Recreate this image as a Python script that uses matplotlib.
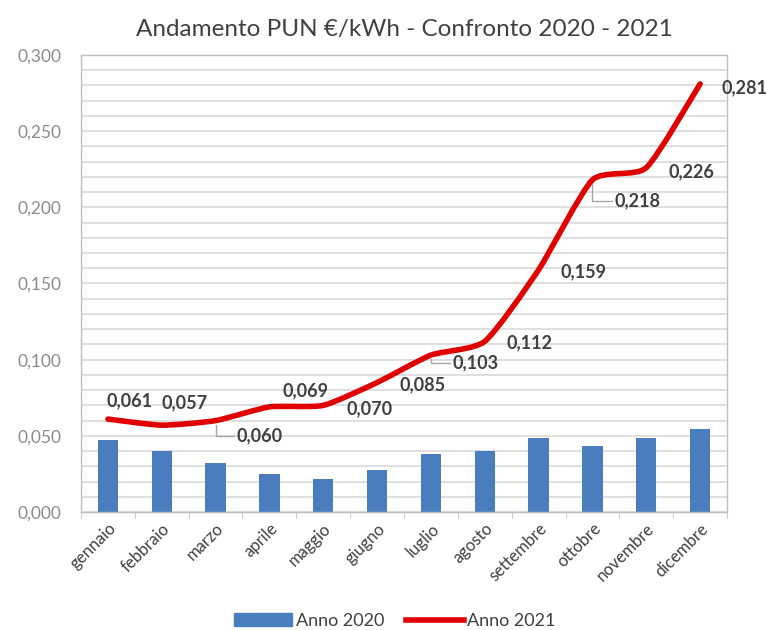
import matplotlib
matplotlib.use("Agg")
import matplotlib.pyplot as plt
import numpy as np
from matplotlib.path import Path
from matplotlib.patches import PathPatch
from matplotlib.lines import Line2D
from matplotlib.patches import Patch
from matplotlib.ticker import MultipleLocator, FuncFormatter

plt.rcParams['font.family'] = ['Lato', 'DejaVu Sans']

mesi = ["gennaio", "febbraio", "marzo", "aprile", "maggio", "giugno",
        "luglio", "agosto", "settembre", "ottobre", "novembre", "dicembre"]
pun_2020 = [0.04759, 0.03991, 0.03202, 0.02476, 0.02178, 0.02782,
            0.03801, 0.04026, 0.04858, 0.04357, 0.04866, 0.05431]
pun_2021 = [0.061, 0.057, 0.060, 0.069, 0.070, 0.085,
            0.103, 0.112, 0.159, 0.218, 0.226, 0.281]
etichette_2021 = ["0,061", "0,057", "0,060", "0,069", "0,070", "0,085",
                  "0,103", "0,112", "0,159", "0,218", "0,226", "0,281"]

# label offsets (pixels) and whether a leader line is drawn
label_offsets = [(22, 18), (23, 22), (44, -15), (36, 16), (46, -3), (45, -2),
                 (45, -8), (45, -1), (45, -2), (45, -21), (45, -4), (44, -4)]
leaders = [False, False, True, False, False, False,
           True, False, False, True, False, False]

BLUE = "#4a7dbd"
RED = "#e00000"
GRID = "#d9d9d9"
TXT = "#404040"
TICK = "#8c8c8c"

fig = plt.figure(figsize=(7.66, 6.30), dpi=100)
ax = fig.add_axes([81 / 766, 1 - 512 / 630, (727 - 81) / 766, (512 - 55) / 630])

x = np.arange(len(mesi))
ax.bar(x, pun_2020, width=0.38, color=BLUE, zorder=2)

# lightly smoothed line (Catmull-Rom rendered as cubic Bezier segments)
pts = np.column_stack([x, pun_2021]).astype(float)
verts = [tuple(pts[0])]
codes = [Path.MOVETO]
t = 0.1
for i in range(len(pts) - 1):
    p0 = pts[i - 1] if i > 0 else pts[i]
    p1 = pts[i]
    p2 = pts[i + 1]
    p3 = pts[i + 2] if i + 2 < len(pts) else pts[i + 1]
    c1 = p1 + (p2 - p0) * t
    c2 = p2 - (p3 - p1) * t
    verts += [tuple(c1), tuple(c2), tuple(p2)]
    codes += [Path.CURVE4] * 3
ax.add_patch(PathPatch(Path(verts, codes), facecolor="none", edgecolor=RED,
                       lw=4, capstyle="round", joinstyle="round", zorder=3))

for xi, yi, lab, off, ld in zip(x, pun_2021, etichette_2021, label_offsets, leaders):
    kw = {}
    if ld:
        kw["arrowprops"] = dict(arrowstyle="-", color="#a6a6a6", lw=1,
                                shrinkA=0, shrinkB=3,
                                connectionstyle="angle,angleA=0,angleB=90,rad=0")
    ax.annotate(lab, (xi, yi), xytext=(off[0], off[1]), textcoords="offset pixels",
                ha="center", va="center", fontsize=13, fontweight="bold",
                color=TXT, zorder=4, annotation_clip=False, **kw)

ax.set_xlim(-0.5, 11.5)
ax.set_ylim(0, 0.3)
ax.yaxis.set_major_locator(MultipleLocator(0.05))
ax.yaxis.set_minor_locator(MultipleLocator(0.01))
ax.yaxis.set_major_formatter(FuncFormatter(lambda v, p: f"{v:.3f}".replace(".", ",")))
ax.grid(True, which="both", axis="y", color=GRID, lw=1.2, zorder=0)
ax.set_axisbelow(True)

ax.set_xticks(x)
ax.set_xticklabels(mesi, rotation=45, ha="right", rotation_mode="anchor",
                   fontsize=12, color=TXT)
ax.set_xticks(np.arange(-0.5, 12, 1), minor=True)
ax.tick_params(axis="x", which="major", length=0, pad=6)
ax.tick_params(axis="x", which="minor", length=4, color="#bfbfbf")
ax.tick_params(axis="y", which="both", length=0, labelsize=12.5, labelcolor=TICK, pad=14)

for s in ax.spines.values():
    s.set_color("#bfbfbf")
    s.set_linewidth(1)

ax.set_title("Andamento PUN €/kWh - Confronto 2020 - 2021", fontsize=17.5,
             color="#404040", pad=14)

handles = [Patch(facecolor=BLUE, edgecolor=BLUE),
           Line2D([0], [0], color=RED, lw=4)]
fig.legend(handles, ["Anno 2020", "Anno 2021"], loc="center",
           bbox_to_anchor=(395 / 766, 1 - 621 / 630), ncol=2, frameon=False,
           fontsize=13, handlelength=3.2, handletextpad=0.2, columnspacing=1.2,
           labelcolor=TXT)

fig.savefig("out.png", dpi=100, facecolor="white")
